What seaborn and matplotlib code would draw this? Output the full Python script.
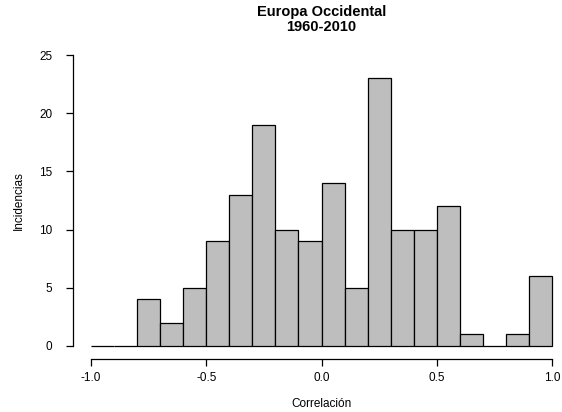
import numpy as np
import pandas as pd
import seaborn as sns
import matplotlib.pyplot as plt

# Histogram counts, bins of width 0.1 from -1.0 to 1.0
bin_edges = [-1.0, -0.9, -0.8, -0.7, -0.6, -0.5, -0.4, -0.3, -0.2, -0.1, 0.0,
             0.1, 0.2, 0.3, 0.4, 0.5, 0.6, 0.7, 0.8, 0.9, 1.0]
counts = [0, 0, 4, 2, 5, 9, 13, 19, 10, 9, 14, 5, 23, 10, 10, 12, 1, 0, 1, 6]
x_ticks = [-1.0, -0.5, 0.0, 0.5, 1.0]
y_ticks = [0, 5, 10, 15, 20, 25]

centers = [(a + b) / 2 for a, b in zip(bin_edges[:-1], bin_edges[1:])]
df = pd.DataFrame({'corr': centers, 'n': counts})

sns.set_style('white')
plt.rcParams['font.family'] = ['Liberation Sans', 'DejaVu Sans']
plt.rcParams['text.color'] = 'black'
plt.rcParams['axes.labelcolor'] = 'black'

fig = plt.figure(figsize=(5.62, 4.12), dpi=100)
ax = fig.add_axes([91 / 562, 66 / 412, 461 / 562, 291 / 412])

sns.histplot(data=df, x='corr', weights='n', bins=bin_edges, ax=ax,
             color='#bebebe', edgecolor='black', linewidth=0.9, alpha=1)
for p in ax.patches:
    p.set_clip_on(False)

ax.set_xlim(-1.0, 1.0)
ax.set_ylim(0, 25)
ax.set_xticks(x_ticks)
ax.set_xticklabels([f'{v:.1f}' for v in x_ticks])
ax.set_yticks(y_ticks)
ax.set_yticklabels([str(v) for v in y_ticks], rotation=90, va='center')

for s in ['top', 'right']:
    ax.spines[s].set_visible(False)
ax.spines['left'].set_position(('outward', 13))
ax.spines['bottom'].set_position(('outward', 9.5))
ax.spines['left'].set_bounds(0, 25)
ax.spines['bottom'].set_bounds(-1.0, 1.0)
for s in ['left', 'bottom']:
    ax.spines[s].set_color('black')
    ax.spines[s].set_linewidth(0.9)

ax.tick_params(axis='both', direction='out', length=5, width=0.9,
               colors='black', labelsize=8.5, left=True, bottom=True)
ax.tick_params(axis='x', pad=4)
ax.tick_params(axis='y', pad=10)

ax.set_xlabel('Correlación', fontsize=8.5, labelpad=10)
ax.set_ylabel('Incidencias', fontsize=8.5, labelpad=10)
ax.set_title('Europa Occidental\n1960-2010', fontsize=10.5, fontweight='bold',
             color='black', linespacing=1.15, pad=17)

fig.savefig('out.png', dpi=100)
